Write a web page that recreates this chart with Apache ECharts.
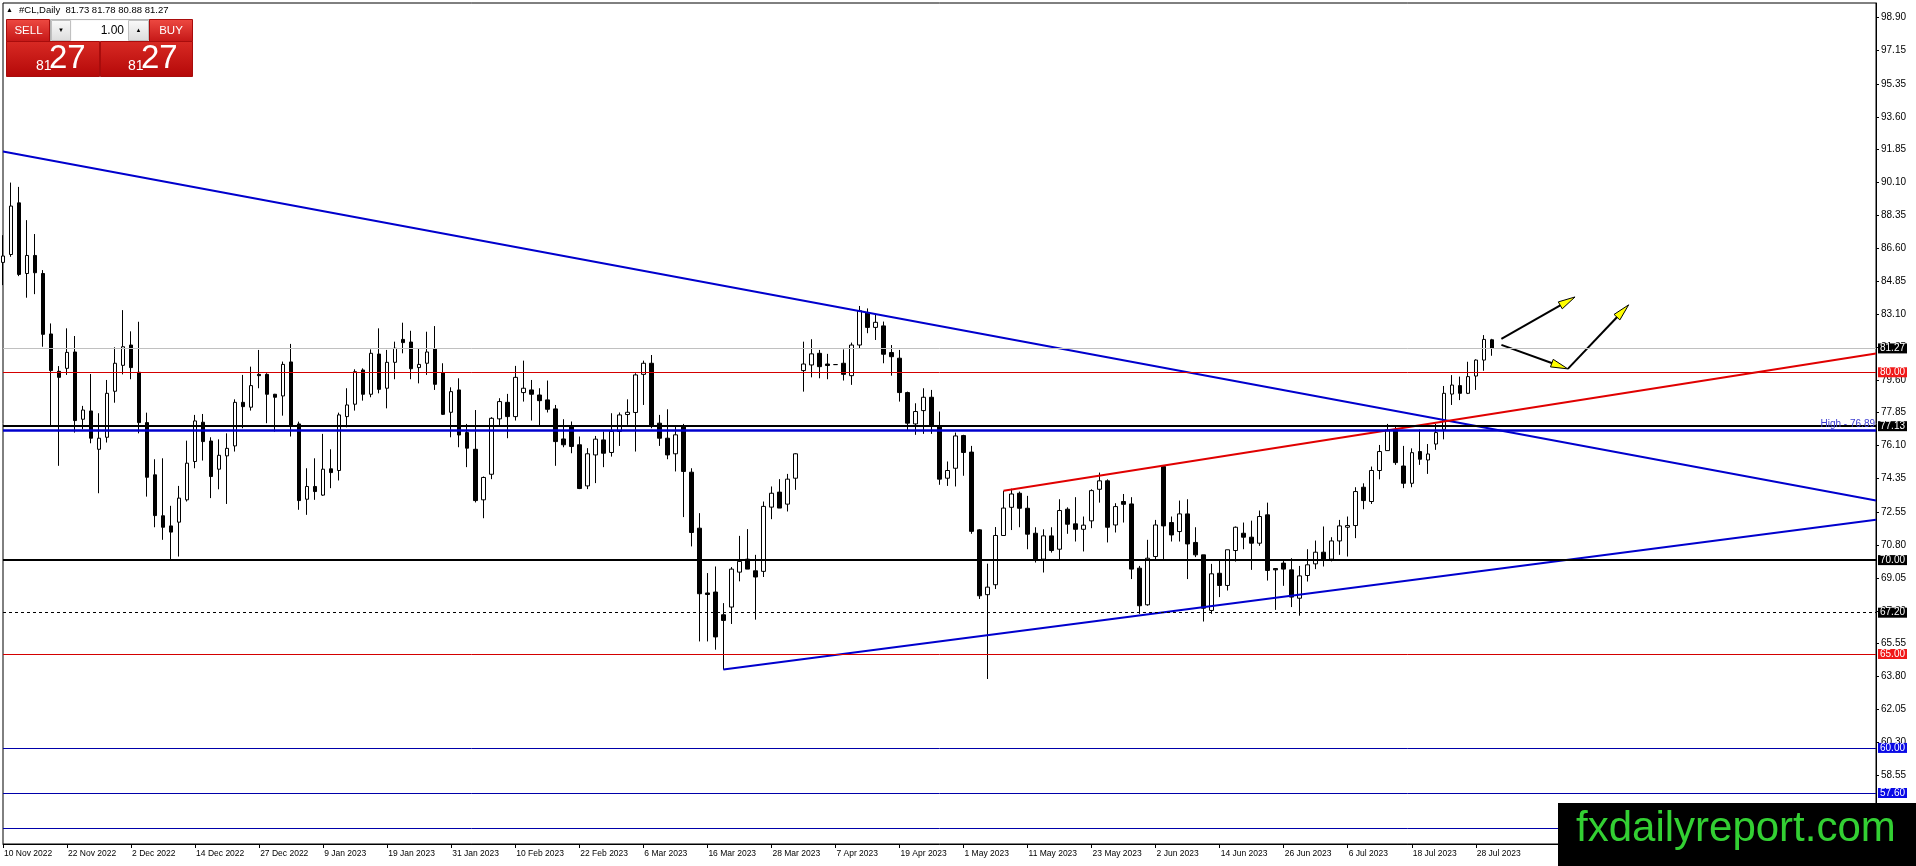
<!DOCTYPE html>
<html>
<head>
<meta charset="utf-8">
<title>#CL,Daily</title>
<script src="https://cdn.jsdelivr.net/npm/echarts@6.0.0/dist/echarts.min.js"></script>
<style>
html, body { margin: 0; padding: 0; background: #fff; }
#container { width: 1916px; height: 866px; }
</style>
</head>
<body>
<div id="container"></div>
<script>
var FONT = 'Liberation Sans';

// trading days shown on the chart (MT4 skips 26 Dec and 2 Jan)
var tradingMonths = [
    ['Nov 2022', [10, 11, 14, 15, 16, 17, 18, 21, 22, 23, 24, 25, 28, 29, 30]],
    ['Dec 2022', [1, 2, 5, 6, 7, 8, 9, 12, 13, 14, 15, 16, 19, 20, 21, 22, 23, 27, 28, 29, 30]],
    ['Jan 2023', [3, 4, 5, 6, 9, 10, 11, 12, 13, 16, 17, 18, 19, 20, 23, 24, 25, 26, 27, 30, 31]],
    ['Feb 2023', [1, 2, 3, 6, 7, 8, 9, 10, 13, 14, 15, 16, 17, 20, 21, 22, 23, 24, 27, 28]],
    ['Mar 2023', [1, 2, 3, 6, 7, 8, 9, 10, 13, 14, 15, 16, 17, 20, 21, 22, 23, 24, 27, 28, 29, 30, 31]],
    ['Apr 2023', [3, 4, 5, 6, 7, 10, 11, 12, 13, 14, 17, 18, 19, 20, 21, 24, 25, 26, 27, 28]],
    ['May 2023', [1, 2, 3, 4, 5, 8, 9, 10, 11, 12, 15, 16, 17, 18, 19, 22, 23, 24, 25, 26, 29, 30, 31]],
    ['Jun 2023', [1, 2, 5, 6, 7, 8, 9, 12, 13, 14, 15, 16, 19, 20, 21, 22, 23, 26, 27, 28, 29, 30]],
    ['Jul 2023', [3, 4, 5, 6, 7, 10, 11, 12, 13, 14, 17, 18, 19, 20, 21, 24, 25, 26, 27, 28, 31]],
    ['Aug 2023', [1]]
];
var emptyBarsRight = 48;   // chart shift space

// daily bars: open, high, low, close
var candles = [
    [85.85, 87.30, 84.64, 86.19], [86.27, 90.10, 86.15, 88.85], [89.02, 89.87, 85.12, 85.21], [85.26, 88.10, 83.97, 86.22],
    [86.22, 87.36, 84.16, 85.30], [85.26, 85.44, 81.36, 82.02], [82.04, 82.60, 77.11, 80.09], [80.05, 80.33, 75.02, 79.73],
    [80.21, 82.34, 79.86, 81.06], [81.08, 81.93, 76.79, 77.43], [77.50, 78.21, 76.97, 77.99], [77.94, 79.91, 76.22, 76.49],
    [75.90, 77.82, 73.56, 76.49], [76.54, 79.59, 76.26, 78.88], [78.99, 81.33, 78.38, 80.48], [80.37, 83.31, 79.89, 81.36],
    [81.45, 82.18, 79.63, 80.25], [80.00, 82.69, 76.75, 77.32], [77.32, 77.85, 73.38, 74.41], [74.54, 75.37, 71.75, 72.37],
    [72.36, 75.42, 71.08, 71.75], [71.82, 72.89, 70.05, 71.49], [72.02, 73.95, 70.19, 73.30], [73.21, 76.36, 73.12, 75.16],
    [75.25, 77.73, 74.89, 77.41], [77.34, 77.78, 75.30, 76.31], [76.34, 76.54, 73.30, 74.45], [74.84, 76.43, 73.77, 75.58],
    [75.55, 76.75, 72.99, 75.95], [76.08, 78.56, 75.78, 78.40], [78.40, 79.86, 77.02, 78.17], [78.14, 80.30, 77.96, 79.29],
    [79.89, 81.19, 79.15, 79.82], [79.89, 79.95, 77.29, 78.83], [78.83, 78.85, 76.84, 78.67], [78.74, 80.57, 77.69, 80.42],
    [80.55, 81.51, 76.58, 77.16], [77.25, 77.37, 72.68, 73.17], [73.24, 74.89, 72.41, 73.92], [73.92, 75.42, 73.21, 73.65],
    [73.46, 76.72, 73.42, 74.84], [74.86, 75.90, 73.83, 74.66], [74.77, 77.85, 74.24, 77.73], [77.64, 79.15, 77.07, 78.26],
    [78.30, 80.16, 77.96, 80.03], [80.12, 80.21, 78.49, 78.83], [78.83, 81.22, 78.67, 81.01], [80.97, 82.34, 78.88, 79.09],
    [79.15, 81.19, 78.08, 80.53], [80.53, 81.63, 79.63, 81.28], [81.75, 82.64, 81.01, 81.58], [81.61, 82.21, 79.63, 80.19],
    [80.25, 81.24, 79.41, 80.42], [80.48, 82.16, 79.86, 81.08], [81.24, 82.46, 79.06, 79.36], [79.98, 80.48, 77.73, 77.76],
    [77.87, 79.20, 76.54, 78.97], [79.06, 79.68, 76.01, 76.66], [76.79, 77.25, 74.95, 75.96], [75.90, 77.99, 73.07, 73.17],
    [73.21, 74.45, 72.23, 74.40], [74.57, 77.61, 74.31, 77.55], [77.52, 78.62, 77.11, 78.44], [78.40, 78.85, 76.49, 77.64],
    [77.64, 80.34, 77.43, 79.73], [78.92, 80.62, 78.44, 79.15], [79.06, 79.59, 77.43, 78.83], [78.79, 79.15, 77.15, 78.49],
    [78.53, 79.56, 77.86, 78.03], [78.05, 78.26, 75.02, 76.31], [76.45, 77.50, 76.01, 76.14], [77.15, 77.38, 75.69, 76.05],
    [76.14, 76.58, 73.78, 73.81], [73.95, 75.96, 73.78, 75.66], [75.60, 76.61, 74.10, 76.44], [76.40, 76.85, 74.95, 75.69],
    [75.73, 77.82, 75.51, 76.85], [76.85, 77.86, 76.08, 77.73], [77.75, 78.56, 77.20, 77.87], [77.86, 79.95, 75.78, 79.86],
    [79.89, 80.62, 78.26, 80.48], [80.48, 80.92, 77.02, 77.15], [77.29, 77.73, 76.08, 76.49], [76.49, 78.03, 75.37, 75.60],
    [75.66, 77.11, 74.72, 76.67], [77.15, 77.25, 72.29, 74.72], [74.68, 74.89, 70.73, 71.47], [71.70, 72.50, 65.67, 68.21],
    [68.25, 69.31, 65.67, 68.17], [68.30, 69.66, 65.23, 65.91], [67.09, 67.71, 64.17, 66.79], [67.50, 69.63, 66.60, 69.52],
    [69.36, 71.29, 68.87, 69.93], [70.05, 71.65, 69.52, 69.52], [69.43, 70.28, 66.83, 69.10], [69.40, 73.12, 69.10, 72.86],
    [72.82, 73.92, 72.18, 73.56], [73.62, 74.31, 72.77, 72.77], [72.98, 74.59, 72.59, 74.31], [74.36, 75.69, 73.74, 75.66],
    [80.09, 81.63, 78.97, 80.44], [80.39, 81.76, 79.73, 80.98], [81.01, 81.19, 79.68, 80.30], [80.44, 80.98, 79.63, 80.36],
    [80.41, 80.42, 80.40, 80.41], [80.48, 81.22, 79.56, 79.89], [79.82, 81.58, 79.33, 81.45], [81.45, 83.53, 81.28, 83.28],
    [83.17, 83.40, 82.08, 82.39], [82.39, 83.05, 81.72, 82.66], [82.47, 82.70, 80.48, 80.96], [81.05, 81.45, 79.82, 80.83],
    [80.75, 81.19, 78.44, 78.92], [78.92, 78.97, 76.93, 77.29], [77.25, 78.35, 76.67, 77.91], [77.96, 79.15, 76.72, 78.67],
    [78.67, 79.06, 76.72, 77.15], [77.15, 77.91, 74.01, 74.31], [74.36, 75.25, 73.95, 74.77], [74.89, 76.79, 73.92, 76.61],
    [76.63, 76.67, 74.49, 75.73], [75.75, 76.08, 71.40, 71.53], [71.61, 71.65, 67.93, 68.10], [68.16, 69.81, 63.67, 68.56],
    [68.69, 71.76, 68.46, 71.31], [71.31, 73.69, 71.29, 72.77], [72.81, 73.80, 71.60, 73.52], [73.56, 73.65, 71.75, 72.76],
    [72.76, 73.42, 70.58, 71.38], [71.43, 71.75, 69.87, 70.05], [70.05, 71.64, 69.34, 71.29], [71.29, 71.75, 70.40, 70.51],
    [70.58, 73.24, 70.05, 72.64], [72.71, 72.81, 71.40, 71.91], [71.93, 73.35, 70.99, 71.64], [71.64, 72.32, 70.46, 71.86],
    [72.09, 73.77, 71.70, 73.70], [73.77, 74.66, 73.06, 74.22], [74.22, 74.30, 70.94, 71.75], [71.87, 73.03, 71.47, 72.85],
    [73.12, 73.52, 72.00, 72.97], [72.99, 73.35, 68.99, 69.52], [69.57, 69.69, 67.14, 67.57], [67.62, 71.08, 67.57, 70.10],
    [70.19, 72.14, 70.05, 71.87], [74.98, 75.01, 70.05, 71.82], [72.00, 72.32, 70.99, 71.34], [71.52, 73.17, 70.99, 72.46],
    [72.46, 73.24, 68.99, 70.86], [70.94, 71.75, 70.16, 70.28], [70.28, 70.28, 66.73, 67.44], [67.32, 69.80, 67.14, 69.27],
    [69.30, 70.05, 68.03, 68.65], [68.65, 70.55, 68.38, 70.55], [70.51, 71.79, 69.92, 71.75], [71.43, 72.00, 70.58, 71.22],
    [71.22, 72.10, 69.48, 70.90], [70.90, 72.64, 70.76, 72.32], [72.41, 73.06, 68.91, 69.45], [69.55, 69.57, 67.35, 69.48],
    [69.84, 70.05, 68.63, 69.52], [69.48, 70.10, 67.50, 68.03], [67.97, 69.69, 67.04, 69.16], [69.18, 70.58, 68.86, 69.75],
    [69.80, 71.04, 69.52, 70.42], [70.42, 71.79, 69.66, 70.05], [70.05, 71.22, 69.93, 71.02], [71.02, 72.14, 70.28, 71.82],
    [71.75, 72.32, 70.19, 71.84], [71.84, 73.88, 71.17, 73.65], [73.88, 74.09, 72.71, 73.17], [73.12, 74.98, 72.99, 74.77],
    [74.77, 76.13, 74.30, 75.78], [75.83, 77.25, 75.83, 76.93], [76.93, 77.19, 75.07, 75.19], [75.01, 76.08, 73.83, 74.09],
    [74.09, 75.95, 73.88, 75.72], [75.78, 76.96, 75.07, 75.37], [75.33, 76.18, 74.59, 75.65], [76.18, 77.25, 75.87, 76.79],
    [76.96, 79.27, 76.43, 78.88], [78.84, 79.85, 78.26, 79.32], [79.29, 79.77, 78.52, 78.88], [78.88, 80.56, 78.84, 79.77],
    [79.80, 80.69, 79.06, 80.65], [80.65, 81.98, 80.08, 81.75], [81.73, 81.78, 80.88, 81.27]
];

// price scale labels as printed by the terminal
var priceTicks = [98.90, 97.15, 95.35, 93.60, 91.85, 90.10, 88.35, 86.60, 84.85, 83.10, 81.35, 79.60,
    77.85, 76.10, 74.35, 72.55, 70.80, 69.05, 67.30, 65.55, 63.80, 62.05, 60.30, 58.55, 56.80];
var priceMin = 54.885;
var priceMax = 99.661;

// horizontal levels
var bidPrice = 81.27;
var redLevels = [80.00, 65.00];
var blackLevels = [77.13, 70.00];
var dashedLevels = [67.20];
var blueLevels = [60.00, 57.60];
var blueLevelsNoLabel = [55.75];
var highLevel = 76.89;

// trend lines [bar index, price]
var resistanceLine = [[0, 91.75], [234, 73.17]];
var supportLine = [[90, 64.17], [234, 72.15]];
var channelLine = [[125, 73.69], [234, 81.00]];
// arrows [bar from, price from, bar to, price to]
var arrows = [
    [187.2, 81.78, 196.4, 84.01],
    [187.2, 81.46, 195.5, 80.18],
    [195.5, 80.18, 203.1, 83.59]
];

var dates = [];
tradingMonths.forEach(function (m) {
    m[1].forEach(function (d) { dates.push(d + ' ' + m[0]); });
});
var categories = dates.slice();
for (var k = 0; k < emptyBarsRight; k++) categories.push('');

var chart = echarts.init(document.getElementById('container'));

function labelEvery(index) {
    return index % 8 === 0 && index < dates.length;
}

function boxLabel(bg) {
    return {
        show: true,
        position: 'end',
        distance: 2,
        formatter: function (p) { return Number(p.value).toFixed(2); },
        color: '#fff',
        backgroundColor: bg,
        fontFamily: FONT,
        fontSize: 10,
        lineHeight: 10,
        padding: [0, 2, 0, 2]
    };
}

var levelData = [];
levelData.push({ yAxis: bidPrice, lineStyle: { color: '#c0c0c0', width: 1, type: 'solid' }, label: boxLabel('#000') });
redLevels.forEach(function (v) {
    levelData.push({ yAxis: v, lineStyle: { color: '#d40000', width: 1, type: 'solid' }, label: boxLabel('#f01818') });
});
blackLevels.forEach(function (v) {
    levelData.push({ yAxis: v, lineStyle: { color: '#000', width: 2, type: 'solid' }, label: boxLabel('#000') });
});
dashedLevels.forEach(function (v) {
    levelData.push({ yAxis: v, lineStyle: { color: '#000', width: 1, type: [3, 3] }, label: boxLabel('#000') });
});
blueLevels.forEach(function (v) {
    levelData.push({ yAxis: v, lineStyle: { color: '#0000aa', width: 1, type: 'solid' }, label: boxLabel('#0a0ae6') });
});
blueLevelsNoLabel.forEach(function (v) {
    levelData.push({ yAxis: v, lineStyle: { color: '#0000aa', width: 1, type: 'solid' }, label: { show: false } });
});
levelData.push({
    yAxis: highLevel,
    lineStyle: { color: '#0000cd', width: 2.5, type: 'solid' },
    label: {
        show: true, position: 'insideEndTop', distance: 1,
        formatter: 'High - ' + highLevel.toFixed(2),
        color: '#3c3cd0', fontFamily: FONT, fontSize: 10
    }
});

function barPixel(api, idx, price) {
    var base = Math.floor(idx);
    var p0 = api.coord([base, price]);
    var p1 = api.coord([base + 1, price]);
    return [p0[0] + (idx - base) * (p1[0] - p0[0]), p0[1]];
}

function renderArrow(params, api) {
    var a = barPixel(api, api.value(0), api.value(1));
    var b = barPixel(api, api.value(2), api.value(3));
    var dx = b[0] - a[0], dy = b[1] - a[1];
    var len = Math.sqrt(dx * dx + dy * dy) || 1;
    var ux = dx / len, uy = dy / len;
    var headLen = 17, half = 4;
    var bx = b[0] - ux * headLen, by = b[1] - uy * headLen;
    return {
        type: 'group',
        children: [{
            type: 'line',
            shape: { x1: a[0], y1: a[1], x2: bx + ux * 2, y2: by + uy * 2 },
            style: { stroke: '#000', lineWidth: 2 }
        }, {
            type: 'polygon',
            shape: { points: [[b[0], b[1]], [bx - uy * half, by + ux * half], [bx + uy * half, by - ux * half]] },
            style: { fill: '#ffff00', stroke: '#000', lineWidth: 1 }
        }]
    };
}

function trendSeries(data, color) {
    return {
        type: 'line',
        data: data,
        symbol: 'none',
        silent: true,
        z: 3,
        lineStyle: { color: color, width: 2 }
    };
}

var last = candles[candles.length - 1];
var headerText = '#CL,Daily  ' + last.map(function (v) { return v.toFixed(2); }).join(' ');
var bidParts = [Math.floor(bidPrice).toString(), bidPrice.toFixed(2).split('.')[1]];

function redFill(top, bottom) {
    return new echarts.graphic.LinearGradient(0, 0, 0, 1, [
        { offset: 0, color: top }, { offset: 1, color: bottom }
    ]);
}
function txt(x, y, text, size, color, align) {
    return {
        type: 'text', x: x, y: y, z: 100,
        style: {
            text: text, fill: color, fontSize: size, fontFamily: FONT,
            align: align || 'left', textAlign: align || 'left',
            verticalAlign: 'middle', textVerticalAlign: 'middle'
        }
    };
}
function box(x, y, w, h, fill, stroke) {
    return {
        type: 'rect', z: 99,
        shape: { x: x, y: y, width: w, height: h },
        style: { fill: fill, stroke: stroke || null, lineWidth: 1 }
    };
}

var graphics = [
    // header
    txt(6, 10.5, '\u25B2', 7, '#000'),
    txt(19, 10.5, headerText, 9.5, '#000'),
    // one click trading panel
    box(6.5, 19.5, 43, 22, redFill('#ee4a42', '#c41616'), '#a80c0c'),
    txt(28.5, 30.5, 'SELL', 11.5, '#fff', 'center'),
    box(50.5, 19.5, 99, 22, '#f2f2f2', '#b4b4b4'),
    box(51.5, 20.5, 19, 20, redFill('#fafafa', '#dcdcdc'), '#c0c0c0'),
    txt(61, 30.5, '\u25BC', 6, '#000', 'center'),
    box(71.5, 20.5, 57, 20, '#fff', null),
    txt(124, 30.5, '1.00', 12, '#000', 'right'),
    box(128.5, 20.5, 20, 20, redFill('#fafafa', '#dcdcdc'), '#c0c0c0'),
    txt(138.5, 30.5, '\u25B2', 6, '#000', 'center'),
    box(149.5, 19.5, 43, 22, redFill('#ee4a42', '#c41616'), '#a80c0c'),
    txt(171, 30.5, 'BUY', 11.5, '#fff', 'center'),
    box(6.5, 41.5, 93, 35, redFill('#d82a24', '#b40808'), '#a80c0c'),
    box(100.5, 41.5, 92, 35, redFill('#d82a24', '#b40808'), '#a80c0c'),
    txt(36, 66, bidParts[0], 14, '#fff'),
    txt(49, 59, bidParts[1], 33, '#fff'),
    txt(128, 66, bidParts[0], 14, '#fff'),
    txt(141, 59, bidParts[1], 33, '#fff'),
    // watermark
    box(1558, 803, 358, 63, '#000', null),
    txt(1576, 829, 'fxdailyreport.com', 42, '#33d033')
];

var option = {
    animation: false,
    backgroundColor: '#fff',
    grid: {
        left: 3, right: 40, top: 3, bottom: 22,
        show: true, borderColor: '#000', borderWidth: 1, backgroundColor: '#fff'
    },
    xAxis: {
        type: 'category',
        data: categories,
        boundaryGap: false,
        axisLine: { show: true, lineStyle: { color: '#000', width: 1 } },
        axisTick: { show: true, length: 4, interval: labelEvery, lineStyle: { color: '#000' } },
        axisLabel: {
            interval: labelEvery, align: 'left', margin: 5, padding: [0, 0, 0, 1],
            color: '#000', fontSize: 8.5, fontFamily: FONT
        },
        splitLine: { show: false }
    },
    yAxis: {
        type: 'value',
        position: 'right',
        min: priceMin,
        max: priceMax,
        axisLine: { show: true, lineStyle: { color: '#000' } },
        axisTick: { show: true, length: 3, customValues: priceTicks, lineStyle: { color: '#000' } },
        axisLabel: {
            customValues: priceTicks,
            formatter: function (v) { return Number(v).toFixed(2); },
            margin: 5, color: '#000', fontSize: 10, fontFamily: FONT
        },
        splitLine: { show: false }
    },
    series: [{
        type: 'candlestick',
        data: candles.map(function (c) { return [c[0], c[3], c[2], c[1]]; }),
        barWidth: 4,
        itemStyle: {
            color: '#fff', color0: '#000',
            borderColor: '#000', borderColor0: '#000', borderColorDoji: '#000',
            borderWidth: 1
        },
        markLine: {
            silent: true,
            symbol: ['none', 'none'],
            animation: false,
            data: levelData
        }
    },
    trendSeries(resistanceLine, '#0000cd'),
    trendSeries(supportLine, '#0000cd'),
    trendSeries(channelLine, '#e00000'),
    {
        type: 'custom',
        data: arrows,
        encode: { x: 0, y: 1 },
        renderItem: renderArrow,
        silent: true,
        z: 4
    }],
    graphic: { elements: graphics }
};
chart.setOption(option);

window.addEventListener('resize', function () {
    chart.resize();
});
</script>
</body>
</html>
